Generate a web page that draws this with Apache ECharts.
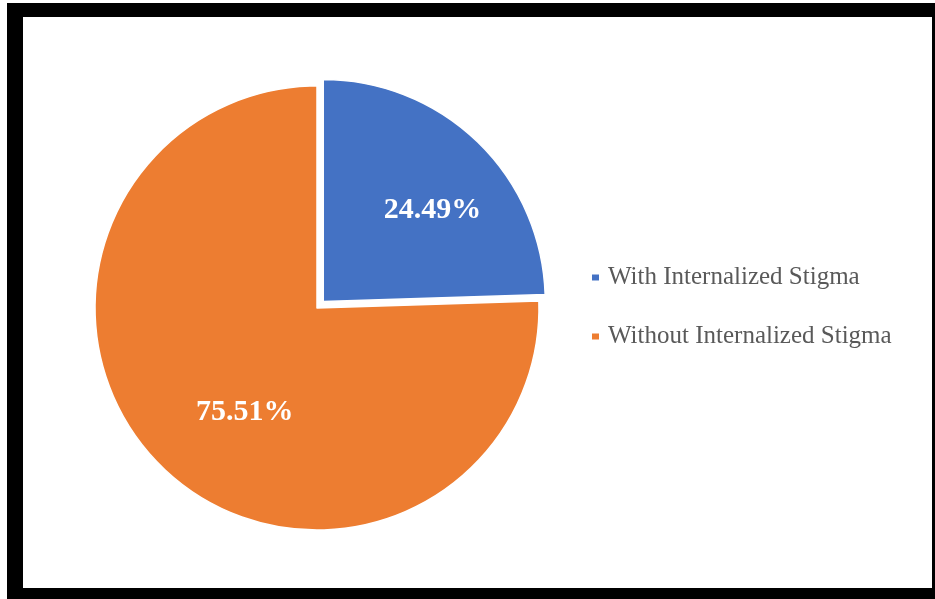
<!DOCTYPE html>
<html><head><meta charset="utf-8">
<script src="https://cdn.jsdelivr.net/npm/echarts@6/dist/echarts.min.js"></script>
<style>html,body{margin:0;padding:0;background:#fff;}#c{width:935px;height:599px;}</style>
</head><body><div id="c"></div>
<script>
const categories = ['With Internalized Stigma', 'Without Internalized Stigma'];
const values = [24.49, 75.51];
const colors = ['#4472C4', '#ED7D31'];
const labelShifts = [[30, -9], [7, 22]];

const chart = echarts.init(document.getElementById('c'));
chart.setOption({
  backgroundColor: '#fff',
  animation: false,
  graphic: [
    { type: 'rect', z: 0, shape: { x: 7, y: 3, width: 928, height: 596 }, style: { fill: '#000' } },
    { type: 'rect', z: 0, shape: { x: 23, y: 17, width: 909, height: 571 }, style: { fill: '#fff' } }
  ],
  legend: {
    orient: 'vertical', left: 585, top: 260, itemWidth: 9, itemHeight: 8, itemGap: 34,
    icon: 'rect', selectedMode: false,
    textStyle: { fontFamily: 'Liberation Serif', fontSize: 25, lineHeight: 25, color: '#595959', padding: [0, 0, 0, 3] },
    data: categories
  },
  series: [{
    type: 'pie', z: 2, center: [317, 308], radius: 222, startAngle: 90, clockwise: true,
    selectedMode: 'multiple', selectedOffset: 9,
    emphasis: { disabled: true },
    itemStyle: { borderColor: '#fff', borderWidth: 1.5 },
    label: {
      position: 'inside', formatter: p => p.value.toFixed(2) + '%',
      color: '#fff', fontFamily: 'Liberation Serif', fontWeight: 'bold', fontSize: 30
    },
    labelLine: { show: false },
    labelLayout: p => ({ dx: labelShifts[p.dataIndex][0], dy: labelShifts[p.dataIndex][1] }),
    data: categories.map((n, i) => ({
      name: n, value: values[i], selected: i === 0,
      itemStyle: { color: colors[i] }
    }))
  }]
});
</script></body></html>
